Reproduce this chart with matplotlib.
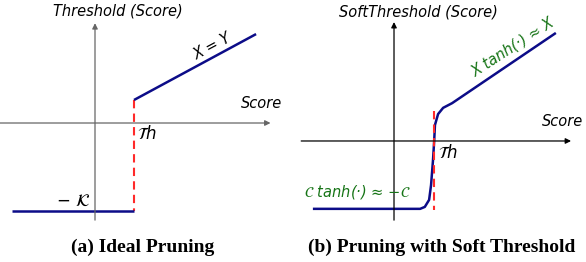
import matplotlib
matplotlib.use("Agg")
import matplotlib.pyplot as plt

# left panel: ideal (hard) threshold, units where Th = 1
th = 1.0
neg_k = -2.26
hard_low_x = [-2.13, 1.0]
hard_low_y = [neg_k, neg_k]
hard_up_x = [1.0, 4.13]
hard_up_y = [0.59, 2.28]

# right panel: soft threshold curve
soft_x = [-2.08, 0.67, 0.79, 0.90, 0.95, 1.00, 1.03, 1.05, 1.13, 1.26, 1.49, 4.15]
soft_y = [-1.74, -1.74, -1.69, -1.51, -1.13, -0.49, 0.00, 0.41, 0.69, 0.85, 0.97, 2.77]
soft_th = 1.03

blue = "#0c0c88"
red = "#ff2a2a"
green = "#167416"

fig = plt.figure(figsize=(5.86, 2.62), dpi=100)
ax1 = fig.add_axes([0, 0, 0.5, 1])
ax2 = fig.add_axes([0.5, 0, 0.5, 1])
ax1.set_xlim(-2.436, 5.077)
ax1.set_ylim(-3.564, 3.154)
ax2.set_xlim(-2.590, 4.923)
ax2.set_ylim(-3.103, 3.615)
for ax in (ax1, ax2):
    ax.axis("off")


def axes_arrows(ax, x0, x1, y0, y1, color):
    ax.annotate("", xy=(x1, 0), xytext=(x0, 0),
                arrowprops=dict(arrowstyle="-|>", lw=0.9, color=color,
                                mutation_scale=8, shrinkA=0, shrinkB=0))
    ax.annotate("", xy=(0, y1), xytext=(0, y0),
                arrowprops=dict(arrowstyle="-|>", lw=0.9, color=color,
                                mutation_scale=8, shrinkA=0, shrinkB=0))


label_kw = dict(fontsize=10.5, fontstyle="italic", ha="center", va="center")
math_kw = dict(fontsize=12, ha="center", va="center")
cap_kw = dict(fontsize=14, fontweight="bold", family="Liberation Serif",
              ha="center", va="center")
dash = (0, (4, 2.5))

# (a) ideal pruning
axes_arrows(ax1, -2.44, 4.50, -2.49, 2.56, "#666666")
ax1.plot([th, th], [hard_up_y[0], neg_k], color=red, lw=1.5, ls=dash)
ax1.plot(hard_low_x, hard_low_y, color=blue, lw=1.8, solid_capstyle="butt")
ax1.plot(hard_up_x, hard_up_y, color=blue, lw=1.8, solid_capstyle="butt")
ax1.text(0.59, 2.87, "Threshold (Score)", **label_kw)
ax1.text(3.0, 1.95, "X = Y", rotation=28, **label_kw)
ax1.text(4.28, 0.51, "Score", **label_kw)
ax1.text(1.33, -0.28, r"$\mathcal{T}h$", **math_kw)
ax1.text(-0.56, -2.0, r"$-\ \mathcal{K}$", **math_kw)
ax1.text(1.21, -3.2, "(a) Ideal Pruning", **cap_kw)

# (b) pruning with soft threshold
axes_arrows(ax2, -2.38, 4.54, -2.03, 3.05, "black")
ax2.plot(soft_x, soft_y, color=blue, lw=1.8, solid_capstyle="butt")
ax2.plot([soft_th, soft_th], [0.77, -1.77], color=red, lw=1.5, ls=dash)
ax2.text(0.62, 3.31, "SoftThreshold (Score)", **label_kw)
ax2.text(3.05, 2.41, "X tanh(·) ≈ X", rotation=33, color=green, **label_kw)
ax2.text(4.33, 0.49, "Score", **label_kw)
ax2.text(1.38, -0.31, r"$\mathcal{T}h$", **math_kw)
ax2.text(-0.95, -1.31, r"$\mathcal{C}$ tanh(·) ≈ $-\mathcal{C}$", color=green,
         **label_kw)
ax2.text(1.21, -2.74, "(b) Pruning with Soft Threshold", **cap_kw)

fig.savefig("out.png", dpi=100)
